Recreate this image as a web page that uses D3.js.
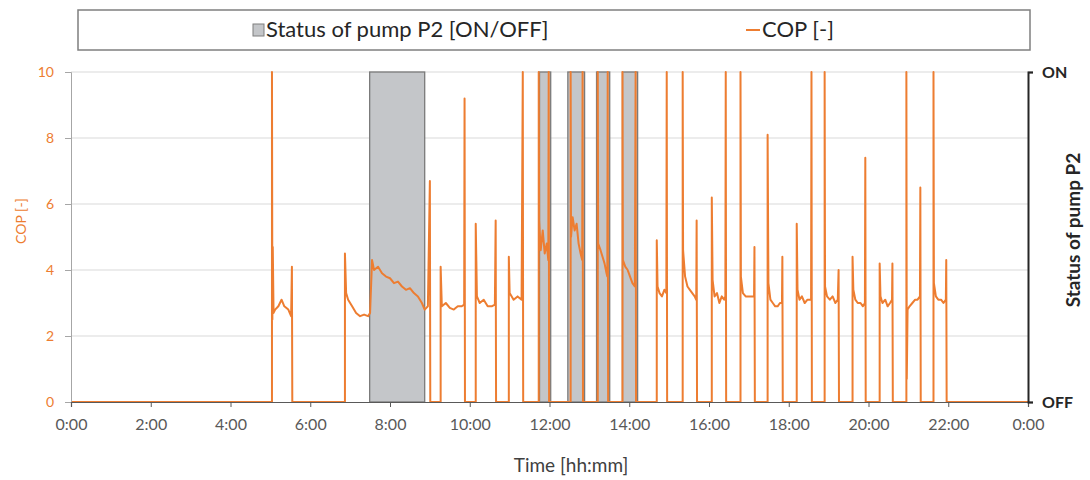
<!DOCTYPE html>
<html>
<head>
<meta charset="utf-8">
<script src="https://cdn.jsdelivr.net/npm/d3@7"></script>
<style>
  html, body { margin: 0; padding: 0; background: #ffffff; }
  svg { display: block; font-family: Lato, "Open Sans", sans-serif; }
</style>
</head>
<body>
<svg id="chart" width="1090" height="480"></svg>
<script>
// ---------------- DATA ----------------
// X axis tick values (hours) and labels
const xTickHours = [0, 2, 4, 6, 8, 10, 12, 14, 16, 18, 20, 22, 24];
const xTickLabels = ["0:00", "2:00", "4:00", "6:00", "8:00", "10:00", "12:00", "14:00", "16:00", "18:00", "20:00", "22:00", "0:00"];
// Left axis (COP) ticks
const copTicks = [0, 2, 4, 6, 8, 10];
// Right axis (pump status) ticks
const statusTicks = [0, 1];
const statusLabels = ["OFF", "ON"];

// Pump P2 ON periods (hours)
const pumpOnStart = [7.49, 11.75, 12.46, 13.18, 13.83];
const pumpOnEnd   = [8.87, 12.03, 12.88, 13.51, 14.21];

// COP time series [hour, COP]
const copSeries = [
  [0, 0], [5.04, 0],
  [5.04, 10], [5.05, 2.5], [5.06, 4.7], [5.08, 2.7], [5.12, 2.8], [5.2, 2.9], [5.28, 3.1], [5.35, 2.9], [5.45, 2.8], [5.52, 2.6], [5.54, 4.1], [5.55, 0],
  [6.87, 0], [6.87, 4.5], [6.9, 3.3], [6.95, 3.1], [7.05, 2.9], [7.15, 2.7], [7.25, 2.6], [7.35, 2.65], [7.45, 2.6], [7.5, 2.7],
  [7.55, 4.3], [7.6, 4.0], [7.7, 4.1], [7.8, 3.9], [7.9, 3.8], [8.0, 3.75], [8.1, 3.6], [8.2, 3.65], [8.3, 3.5], [8.4, 3.4], [8.5, 3.45], [8.6, 3.3], [8.7, 3.2], [8.8, 3.0], [8.87, 2.8], [8.95, 2.9], [9.0, 6.7], [9.01, 0],
  [9.27, 0], [9.27, 4.1], [9.3, 2.9], [9.4, 3.0], [9.5, 2.85], [9.6, 2.8], [9.7, 2.9], [9.8, 2.9], [9.86, 2.95], [9.87, 9.2], [9.88, 0],
  [10.15, 0], [10.15, 5.4], [10.18, 3.2], [10.25, 3.0], [10.35, 3.1], [10.45, 2.9], [10.55, 2.9], [10.63, 2.95], [10.65, 5.5], [10.66, 0],
  [10.98, 0], [10.98, 4.4], [11.0, 3.3], [11.1, 3.1], [11.2, 3.2], [11.3, 3.1], [11.33, 10], [11.34, 0],
  [11.73, 0], [11.73, 10], [11.74, 5.5], [11.78, 4.6], [11.83, 5.2], [11.88, 4.5], [11.93, 4.8], [11.97, 4.3], [11.98, 10], [11.99, 0],
  [12.53, 0], [12.53, 10], [12.54, 5.0], [12.58, 5.6], [12.63, 5.2], [12.68, 5.4], [12.73, 4.8], [12.78, 4.5], [12.82, 4.3], [12.83, 10], [12.84, 0],
  [13.21, 0], [13.21, 10], [13.22, 4.8], [13.28, 4.6], [13.33, 4.4], [13.38, 4.2], [13.43, 3.9], [13.45, 3.8], [13.46, 10], [13.47, 0],
  [13.83, 0], [13.83, 10], [13.84, 4.3], [13.9, 4.1], [13.96, 4.0], [14.02, 3.8], [14.08, 3.6], [14.14, 3.5], [14.16, 10], [14.17, 0],
  [14.69, 0], [14.69, 4.9], [14.71, 3.5], [14.76, 3.3], [14.82, 3.2], [14.88, 3.4], [14.93, 3.3], [14.94, 10], [14.95, 0],
  [15.34, 0], [15.34, 10], [15.35, 4.6], [15.4, 3.8], [15.46, 3.5], [15.52, 3.4], [15.58, 3.3], [15.64, 3.2], [15.68, 3.1], [15.69, 5.5], [15.7, 0],
  [16.07, 0], [16.07, 6.2], [16.09, 3.7], [16.14, 3.2], [16.2, 3.3], [16.26, 3.0], [16.32, 3.2], [16.38, 3.1], [16.41, 3.2], [16.42, 10], [16.43, 0],
  [16.79, 0], [16.79, 10], [16.8, 3.8], [16.85, 3.3], [16.92, 3.2], [17.0, 3.2], [17.07, 3.2], [17.13, 3.2], [17.14, 4.7], [17.15, 0],
  [17.47, 0], [17.47, 8.1], [17.49, 3.6], [17.54, 3.1], [17.6, 3.0], [17.66, 2.9], [17.72, 2.9], [17.78, 3.0], [17.83, 3.0], [17.84, 4.4], [17.85, 0],
  [18.2, 0], [18.2, 5.4], [18.22, 3.4], [18.27, 3.1], [18.33, 3.2], [18.4, 3.0], [18.47, 3.1], [18.53, 3.1], [18.56, 3.1], [18.57, 10], [18.58, 0],
  [18.9, 0], [18.9, 10], [18.91, 3.5], [18.96, 3.2], [19.03, 3.1], [19.1, 3.2], [19.17, 3.0], [19.23, 3.1], [19.25, 4.0], [19.26, 0],
  [19.6, 0], [19.6, 4.4], [19.62, 3.4], [19.67, 3.1], [19.73, 3.0], [19.8, 3.0], [19.86, 2.9], [19.91, 3.0], [19.92, 7.4], [19.93, 0],
  [20.28, 0], [20.28, 4.2], [20.3, 3.2], [20.35, 3.0], [20.42, 3.1], [20.48, 2.9], [20.54, 3.0], [20.59, 3.1], [20.6, 4.2], [20.61, 0],
  [20.95, 0], [20.95, 10], [20.96, 0.7], [20.98, 2.8], [21.03, 2.9], [21.1, 3.0], [21.17, 3.1], [21.23, 3.1], [21.29, 3.2], [21.3, 6.5], [21.31, 0],
  [21.63, 0], [21.63, 10], [21.64, 3.6], [21.69, 3.2], [21.75, 3.1], [21.82, 3.1], [21.88, 3.0], [21.94, 3.1], [21.95, 4.3], [21.96, 0],
  [24, 0]
];

// ---------------- DRAW ----------------
const svg = d3.select("#chart");
const orange = "#ED7D31";
const plot = { left: 71, right: 1028, top: 72, bottom: 402 };

const x = d3.scaleLinear().domain([0, 24]).range([plot.left, plot.right]);
const y = d3.scaleLinear().domain([0, 10]).range([plot.bottom, plot.top]);
const y2 = d3.scaleLinear().domain([0, 1]).range([plot.bottom, plot.top]);

// gridlines
svg.append("g").selectAll("line")
  .data(copTicks.filter(d => d > 0))
  .join("line")
  .attr("x1", plot.left).attr("x2", plot.right)
  .attr("y1", d => y(d)).attr("y2", d => y(d))
  .attr("stroke", "#d9d9d9").attr("stroke-width", 1);

// pump ON bars
svg.append("g").selectAll("rect")
  .data(pumpOnStart.map((s, i) => [s, pumpOnEnd[i]]))
  .join("rect")
  .attr("x", d => x(d[0]))
  .attr("width", d => x(d[1]) - x(d[0]))
  .attr("y", y2(1))
  .attr("height", y2(0) - y2(1))
  .attr("fill", "#c4c6c9")
  .attr("stroke", "#7a7a7a")
  .attr("stroke-width", 1.3);

// COP line
svg.append("path")
  .datum(copSeries)
  .attr("fill", "none")
  .attr("stroke", orange)
  .attr("stroke-width", 2)
  .attr("stroke-linejoin", "round")
  .attr("d", d3.line().x(d => x(d[0])).y(d => y(d[1])));

// left axis
const leftAxis = svg.append("g")
  .attr("transform", `translate(${plot.left},0)`)
  .call(d3.axisLeft(y).tickValues(copTicks).tickSize(6).tickPadding(11));
leftAxis.select(".domain").attr("stroke", "#a6a6a6");
leftAxis.selectAll(".tick line").attr("stroke", "#a6a6a6");
leftAxis.selectAll("text").attr("fill", orange).attr("font-size", 14).attr("font-family", "Lato, sans-serif");

// bottom axis
const bottomAxis = svg.append("g")
  .attr("transform", `translate(0,${plot.bottom})`)
  .call(d3.axisBottom(x).tickValues(xTickHours).tickFormat((d, i) => xTickLabels[i]).tickSize(5).tickPadding(12));
bottomAxis.select(".domain").attr("stroke", "#595959").attr("stroke-width", 1.2);
bottomAxis.selectAll(".tick line").attr("stroke", "#595959");
bottomAxis.selectAll("text").attr("fill", "#595959").attr("font-size", 16).attr("font-family", "Lato, sans-serif");

// right axis
const rightAxis = svg.append("g")
  .attr("transform", `translate(${plot.right},0)`)
  .call(d3.axisRight(y2).tickValues(statusTicks).tickFormat((d, i) => statusLabels[i]).tickSize(5).tickPadding(9));
rightAxis.select(".domain").attr("stroke", "#262626").attr("stroke-width", 2);
rightAxis.selectAll(".tick line").attr("stroke", "#262626").attr("stroke-width", 1.5);
rightAxis.selectAll("text").attr("fill", "#262626").attr("font-size", 16).attr("font-weight", "bold").attr("font-family", "Lato, sans-serif");

// axis titles
svg.append("text")
  .attr("transform", `translate(26,221) rotate(-90)`)
  .attr("text-anchor", "middle")
  .attr("fill", orange)
  .attr("font-size", 14)
  .text("COP [-]");

svg.append("text")
  .attr("transform", `translate(1080,230) rotate(-90)`)
  .attr("text-anchor", "middle")
  .attr("fill", "#262626")
  .attr("font-size", 19)
  .attr("font-weight", "bold")
  .text("Status of pump P2");

svg.append("text")
  .attr("x", 571).attr("y", 472)
  .attr("text-anchor", "middle")
  .attr("fill", "#404040")
  .attr("font-size", 19)
  .text("Time [hh:mm]");

// legend
const legend = svg.append("g");
legend.append("rect")
  .attr("x", 78).attr("y", 10).attr("width", 952).attr("height", 40)
  .attr("fill", "#ffffff").attr("stroke", "#7f7f7f").attr("stroke-width", 1.5);
legend.append("rect")
  .attr("x", 253).attr("y", 24).attr("width", 11).attr("height", 12)
  .attr("fill", "#c4c6c9").attr("stroke", "#7f7f7f").attr("stroke-width", 1);
legend.append("text")
  .attr("x", 266).attr("y", 37)
  .attr("fill", "#262626").attr("font-size", 22)
  .text("Status of pump P2 [ON/OFF]");
legend.append("line")
  .attr("x1", 746).attr("x2", 760).attr("y1", 30).attr("y2", 30)
  .attr("stroke", orange).attr("stroke-width", 2);
legend.append("text")
  .attr("x", 762).attr("y", 37)
  .attr("fill", "#262626").attr("font-size", 22)
  .text("COP [-]");
</script>
</body>
</html>
